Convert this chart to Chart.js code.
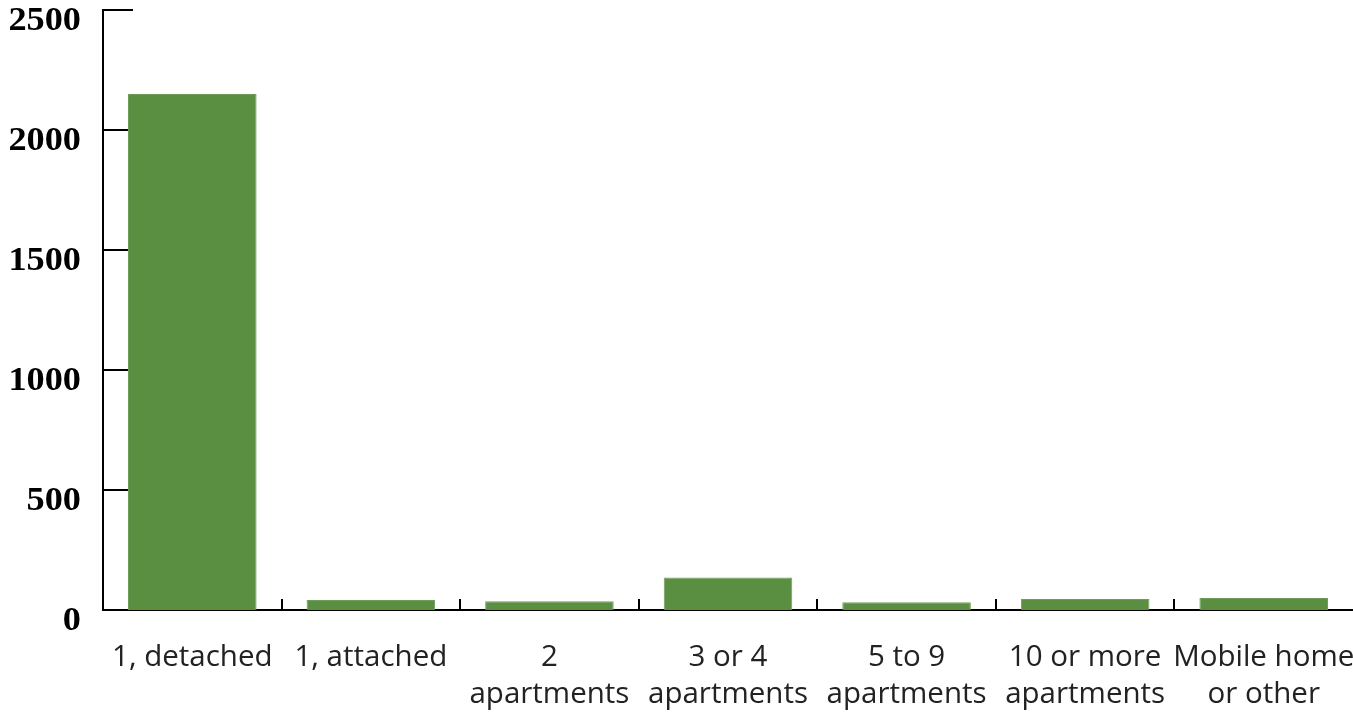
<!DOCTYPE html>
<html>
<head>
<meta charset="utf-8">
<script src="https://cdn.jsdelivr.net/npm/chart.js@4.4.1/dist/chart.umd.min.js"></script>
<style>
  html, body { margin: 0; padding: 0; background: #fff; overflow: hidden; }
  #wrap { width: 1353px; height: 713px; }
</style>
</head>
<body>
<div id="wrap"><canvas id="chart"></canvas></div>
<script>
// 데이터
const categories = [
    '1, detached', '1, attached', ['2', 'apartments'], ['3 or 4', 'apartments'],
    ['5 to 9', 'apartments'], ['10 or more', 'apartments'], ['Mobile home', 'or other']
];
const units = [2150, 42, 36, 135, 32, 46, 50];
const yTicks = [0, 500, 1000, 1500, 2000, 2500];

// 축 눈금을 안쪽으로 그리고, y 라벨은 직접 그림
const axisMarks = {
    id: 'axisMarks',
    beforeDatasetsDraw(chart) {
        const { ctx, scales: { x, y }, chartArea } = chart;
        ctx.save();
        ctx.strokeStyle = '#000';
        ctx.lineWidth = 2;
        yTicks.forEach(v => {
            if (v === 0) return;
            const py = Math.round(y.getPixelForValue(v));
            ctx.beginPath();
            ctx.moveTo(chartArea.left, py);
            ctx.lineTo(chartArea.left + 30, py);
            ctx.stroke();
        });
        for (let i = 1; i < categories.length; i++) {
            const px = Math.round((x.getPixelForValue(i - 1) + x.getPixelForValue(i)) / 2);
            ctx.beginPath();
            ctx.moveTo(px, chartArea.bottom);
            ctx.lineTo(px, chartArea.bottom - 11);
            ctx.stroke();
        }
        ctx.restore();
    },
    afterDraw(chart) {
        const { ctx, scales: { y } } = chart;
        ctx.save();
        ctx.fillStyle = '#000';
        ctx.font = 'bold 33px "Liberation Serif", serif';
        ctx.textAlign = 'right';
        ctx.textBaseline = 'middle';
        yTicks.forEach(v => {
            ctx.save();
            ctx.translate(81, y.getPixelForValue(v) + 11);
            ctx.scale(1.1, 1);
            ctx.fillText(String(v), 0, 0);
            ctx.restore();
        });
        ctx.restore();
    }
};

new Chart(document.getElementById('chart').getContext('2d'), {
    type: 'bar',
    data: {
        labels: categories,
        datasets: [{
            label: 'Units',
            data: units,
            backgroundColor: '#5a8e41',
            borderColor: '#6e9d58',
            borderWidth: 1,
            categoryPercentage: 0.8,
            barPercentage: 0.9,
        }]
    },
    options: {
        responsive: true,
        maintainAspectRatio: false,
        animation: false,
        layout: { padding: { top: 10, right: 0, left: 0, bottom: 0 } },
        plugins: {
            legend: { display: false },
            tooltip: { enabled: false }
        },
        scales: {
            y: {
                min: 0,
                max: 2500,
                ticks: { display: false, stepSize: 500 },
                grid: { display: false, drawTicks: false },
                border: { display: true, color: '#000', width: 2 },
                afterFit: s => { s.width = 103; s.paddingTop = 0; s.paddingBottom = 0; }
            },
            x: {
                offset: true,
                grid: { display: false, drawTicks: false },
                border: { display: true, color: '#000', width: 2 },
                ticks: {
                    color: '#222',
                    font: { family: '"Open Sans", sans-serif', size: 29.5, lineHeight: 1.25 },
                    padding: 29,
                    maxRotation: 0,
                    autoSkip: false
                },
                afterFit: s => { s.height = 103; s.paddingLeft = 0; s.paddingRight = 0; }
            }
        }
    },
    plugins: [axisMarks]
});
</script>
</body>
</html>
